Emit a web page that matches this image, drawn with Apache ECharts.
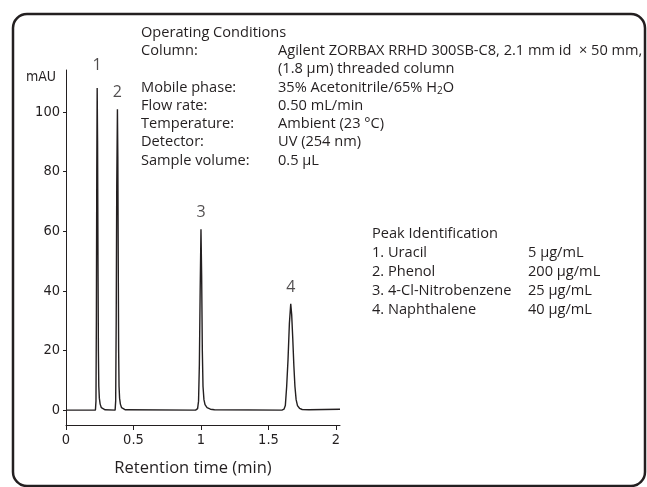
<!DOCTYPE html>
<html>
<head>
<meta charset="utf-8">
<script src="https://cdn.jsdelivr.net/npm/echarts@6/dist/echarts.min.js"></script>
<style>
html,body{margin:0;padding:0;background:#fff;}
#chart{width:647px;height:487px;}
</style>
</head>
<body>
<div id="chart"></div>
<script>
// ---- data ----
const retentionTime = [0, 0.218, 0.222, 0.225, 0.228, 0.231, 0.234, 0.237, 0.240, 0.243, 0.247, 0.253, 0.262, 0.275, 0.29,
  0.364, 0.368, 0.372, 0.376, 0.381, 0.384, 0.387, 0.390, 0.393, 0.397, 0.403, 0.412, 0.425, 0.44,
  0.96, 0.975, 0.982, 0.988, 0.994, 1.0, 1.005, 1.01, 1.015, 1.022, 1.03, 1.045, 1.07, 1.1,
  1.60, 1.615, 1.625, 1.635, 1.645, 1.655, 1.665, 1.672, 1.68, 1.688, 1.696, 1.705, 1.715, 1.73, 1.75, 1.8, 2.03];
const absorbance = [0, 0, 3, 30, 80, 108, 90, 50, 20, 8, 4, 2, 0.8, 0.3, 0.1,
  0, 3, 30, 75, 100.8, 85, 50, 20, 8, 4, 2, 0.8, 0.3, 0.1,
  0, 0.5, 3, 15, 40, 60.6, 45, 20, 8, 3.5, 1.8, 0.8, 0.3, 0.1,
  0, 0.3, 1.5, 8, 17, 29, 35.6, 32, 24, 15, 8, 3.5, 1.5, 0.6, 0.2, 0.1, 0.3];
const peakTime = [0.231, 0.381, 1.0, 1.665];
const peakHeight = [108, 100.8, 60.6, 35.6];
const peakLabel = ['1', '2', '3', '4'];
const yTicks = [0, 20, 40, 60, 80, 100];
const xTicks = [0, 0.5, 1, 1.5, 2];
const condTitle = 'Operating Conditions';
const condLabels = ['Column:', '', 'Mobile phase:', 'Flow rate:', 'Temperature:', 'Detector:', 'Sample volume:'];
const condValues = ['Agilent ZORBAX RRHD 300SB-C8, 2.1 mm id  \u00d7 50 mm,', '(1.8 \u00b5m) threaded column',
  '{n|35% Acetonitrile/65% H}{s|2}{n|O}', '0.50 mL/min', 'Ambient (23 \u00b0C)', 'UV (254 nm)', '0.5 \u00b5L'];
const peakIdTitle = 'Peak Identification';
const peakIdNames = ['1. Uracil', '2. Phenol', '3. 4-Cl-Nitrobenzene', '4. Naphthalene'];
const peakIdConc = ['5 \u00b5g/mL', '200 \u00b5g/mL', '25 \u00b5g/mL', '40 \u00b5g/mL'];
const yName = 'mAU';
const xName = 'Retention time (min)';

// ---- chart ----
const textFont = "'Open Sans', 'Noto Sans', sans-serif";
const tickFont = "'Liberation Sans Narrow', 'DejaVu Sans Condensed', sans-serif";
const txtColor = '#231f20';
const fs = 14.6;
const lineH = 18.3;

const graphics = [];
graphics.push({type:'rect', shape:{x:13, y:14, width:632, height:472, r:14}, style:{fill:'none', stroke:'#231f20', lineWidth:2.5}, z:0});
const rich = {n:{fontSize:fs, fontFamily:textFont, fill:txtColor}, s:{fontSize:10, fontFamily:textFont, fill:txtColor, verticalAlign:'bottom', padding:[7,0,0,0]}};
function addText(x, y, text, size, align) {
  graphics.push({type:'text', x:x, y:y, style:{text:text, fontSize:size || fs, fontFamily:textFont, fill:txtColor, textAlign:align || 'left', textVerticalAlign:'middle', rich:rich}});
}
addText(141, 32.5, condTitle);
condLabels.forEach((t, i) => { if (t) addText(141, 32.5 + lineH * (i + 1), t); });
condValues.forEach((t, i) => addText(278, 32.5 + lineH * (i + 1), t));
addText(372, 234, peakIdTitle);
peakIdNames.forEach((t, i) => addText(372, 234 + 19 * (i + 1), t));
peakIdConc.forEach((t, i) => addText(528, 234 + 19 * (i + 1), t));
addText(193, 468, xName, 16.5, 'center');
graphics.push({type:'text', x:56, y:77, style:{text:yName, fontSize:14, fontFamily:tickFont, fill:txtColor, textAlign:'right', textVerticalAlign:'middle'}});

const labelDistance = [14, 9, 9, 8];
const chart = echarts.init(document.getElementById('chart'), null, {renderer:'canvas'});
chart.setOption({
  animation:false,
  backgroundColor:'#fff',
  grid:{left:66, top:70, width:274, height:355},
  xAxis:{
    type:'value', min:0, max:2.03,
    axisLine:{onZero:false, lineStyle:{color:'#231f20', width:1}},
    axisTick:{customValues:xTicks, length:5, lineStyle:{color:'#231f20'}},
    axisLabel:{customValues:xTicks, fontFamily:tickFont, fontSize:14.5, color:txtColor, margin:8},
    splitLine:{show:false}
  },
  yAxis:{
    type:'value', min:-5, max:114,
    axisLine:{show:true, onZero:false, lineStyle:{color:'#231f20', width:1}},
    axisTick:{show:true, customValues:yTicks, length:3, lineStyle:{color:'#231f20'}},
    axisLabel:{customValues:yTicks, fontFamily:tickFont, fontSize:14.5, color:txtColor, margin:6},
    splitLine:{show:false}
  },
  series:[
    {type:'line', data:retentionTime.map((t, i) => [t, absorbance[i]]), showSymbol:false, symbol:'none',
      lineStyle:{color:'#231f20', width:1.4}, z:3},
    {type:'scatter', data:peakTime.map((t, i) => ({value:[t, peakHeight[i]], label:{distance:labelDistance[i]}})), symbolSize:0, silent:true,
      label:{show:true, position:'top', formatter:p => peakLabel[p.dataIndex], fontFamily:textFont, fontSize:16, color:txtColor}}
  ],
  graphic:graphics
});
</script>
</body>
</html>
